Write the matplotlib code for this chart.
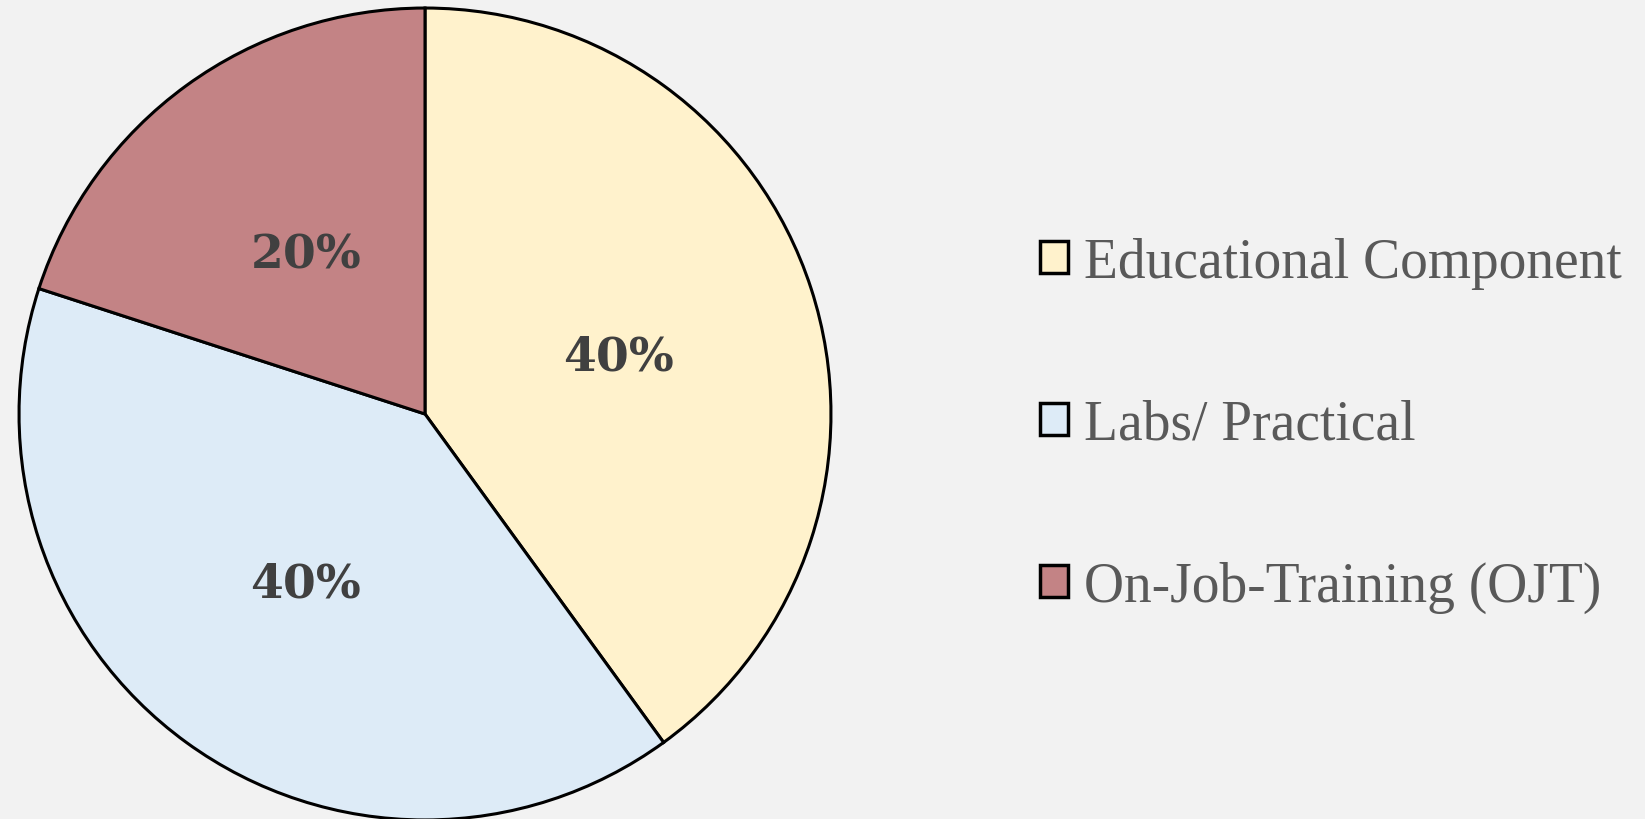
import matplotlib.pyplot as plt

labels = ["Educational Component", "Labs/ Practical", "On-Job-Training (OJT)"]
shares = [40, 40, 20]
colors = ["#FFF2CC", "#DDEBF7", "#C38385"]

W, H = 1645, 820
fig = plt.figure(figsize=(W / 100, H / 100), dpi=100, facecolor="#F2F2F2")

# pie area: centre (425, 415) px from top-left, radius ~408 px
cx, cy, r = 425, 415, 408
ax = fig.add_axes([(cx - r) / W, (H - cy - r) / H, 2 * r / W, 2 * r / H])
ax.set_facecolor("#F2F2F2")

wedges, texts, autotexts = ax.pie(
    shares, colors=colors, startangle=90, counterclock=False,
    autopct="%d%%", pctdistance=0.5, radius=1.0,
    wedgeprops=dict(edgecolor="black", linewidth=2.2),
    textprops=dict(family="DejaVu Serif", fontsize=34, fontweight="bold", color="#404040"),
)
for t in autotexts:
    t.set_va("center_baseline")
ax.set_xlim(-1.005, 1.005)
ax.set_ylim(-1.005, 1.005)
ax.set_aspect("equal")

leg = fig.legend(
    wedges, labels, loc="center left", bbox_to_anchor=(1040 / W, (H - 426) / H),
    frameon=False, handlelength=0.5, handleheight=0.5, handletextpad=0.3,
    labelspacing=1.98, borderaxespad=0, borderpad=0,
    prop=dict(family="Liberation Serif", size=40),
)
for t in leg.get_texts():
    t.set_color("#595959")
for h in leg.legend_handles:
    h.set_linewidth(2.5)

fig.savefig("out.png", dpi=100, facecolor=fig.get_facecolor())
